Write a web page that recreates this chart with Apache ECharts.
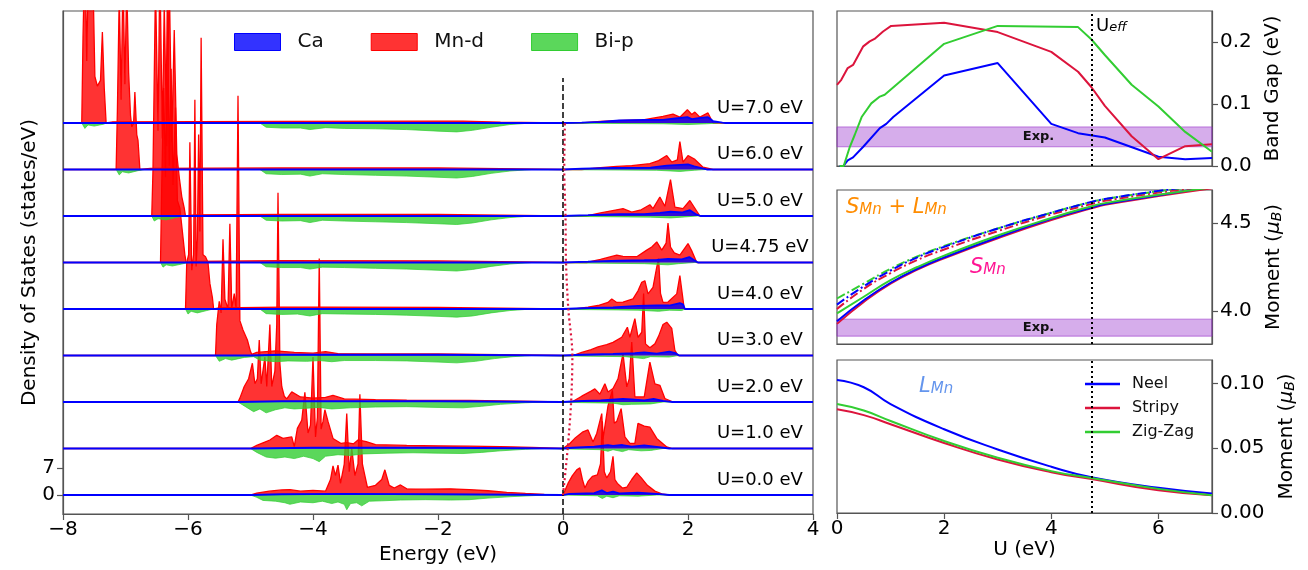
<!DOCTYPE html>
<html>
<head>
<meta charset="utf-8">
<script src="https://cdn.jsdelivr.net/npm/echarts@6/dist/echarts.min.js"></script>
<style>
  html, body { margin: 0; padding: 0; background: #fff; }
  #chart { width: 1308px; height: 570px; }
</style>
</head>
<body>
<div id="chart"></div>
<script>
// ---- DOS panel: one offset per U, values in states/eV ----
var dosOffsets = [0, 12, 24, 36, 48, 60, 72, 84, 96];
var uText = ['U=0.0 eV', 'U=1.0 eV', 'U=2.0 eV', 'U=3.0 eV', 'U=4.0 eV', 'U=4.75 eV', 'U=5.0 eV', 'U=6.0 eV', 'U=7.0 eV'];
var gapLine = [0.0, 0.075, 0.13, 0.15, 0.085, 0.048, 0.04, 0.02, 0.03];

var mnD0 = [[-8,0],[-5.0,0],[-4.9,0.5],[-4.7,1.0],[-4.5,1.3],[-4.37,1.4],[-4.2,1.0],[-4.0,1.2],[-3.8,1.0],[-3.72,4],[-3.68,7.5],[-3.64,5],[-3.6,7.7],[-3.56,3],[-3.5,8],[-3.46,21],[-3.42,6],[-3.38,12],[-3.33,5],[-3.28,8],[-3.25,26],[-3.21,8],[-3.17,5],[-3.13,2],[-3.0,2.5],[-2.9,4],[-2.85,6.5],[-2.78,2.5],[-2.7,1.8],[-2.6,2.6],[-2.5,1.6],[-2.2,1.5],[-1.8,1.6],[-1.5,1.4],[-1.2,1.1],[-0.9,0.7],[-0.6,0.4],[-0.3,0.15],[0,0],[0.02,0],[0.08,3],[0.15,5],[0.22,6.5],[0.27,7],[0.31,4],[0.35,1.8],[0.4,3.5],[0.47,4.8],[0.55,5.2],[0.6,8],[0.63,19],[0.66,6],[0.7,4.4],[0.76,6],[0.8,10],[0.83,4],[0.87,3],[0.95,1.8],[1.02,2],[1.1,4],[1.18,5.7],[1.25,4.5],[1.35,2.5],[1.47,1],[1.6,0.2],[1.7,0],[4,0]];
var mnD1 = [[-8,0],[-5.0,0],[-4.9,0.8],[-4.78,1.6],[-4.69,2.2],[-4.58,3.4],[-4.48,2.6],[-4.34,3],[-4.3,0.5],[-4.27,0.5],[-4.25,5.2],[-4.18,7.3],[-4.13,14.5],[-4.08,4],[-4.04,6],[-4.0,23.6],[-3.96,3],[-3.93,8],[-3.9,49],[-3.87,5],[-3.84,7],[-3.81,10],[-3.76,7],[-3.68,2.6],[-3.55,1.3],[-3.46,1.5],[-3.35,1.2],[-3.28,2.2],[-3.15,1.8],[-3.0,1.0],[-2.5,0.8],[-2.0,0.7],[-1.5,0.6],[-1.0,0.5],[-0.5,0.3],[0,0],[0.03,0],[0.11,1.3],[0.2,2.8],[0.32,4.3],[0.4,4.8],[0.48,1.7],[0.54,3.9],[0.62,9],[0.64,2.5],[0.72,11],[0.79,15],[0.82,6.5],[0.86,7],[0.93,10.3],[0.99,3],[1.07,1.3],[1.15,1.3],[1.2,6.5],[1.3,5.8],[1.39,5.5],[1.5,2.6],[1.66,0.4],[1.75,0],[4,0]];
var mnD2 = [[-8,0],[-5.2,0],[-5.17,1],[-5.1,4],[-5.03,6],[-5.0,8],[-4.97,10],[-4.93,4.7],[-4.89,6],[-4.86,16],[-4.83,4.7],[-4.77,11.6],[-4.74,4],[-4.69,20],[-4.66,4],[-4.61,8],[-4.58,20],[-4.56,54],[-4.53,10],[-4.5,4],[-4.46,1.5],[-4.42,0.8],[-4.34,2.6],[-4.2,1.3],[-4.0,1.0],[-3.8,1.2],[-3.68,1.7],[-3.5,0.8],[-3.0,0.6],[-2.5,0.5],[-1.5,0.4],[-0.7,0.2],[0,0],[0.14,0],[0.3,1.5],[0.45,2.8],[0.51,3.4],[0.59,2],[0.67,4.7],[0.72,2.6],[0.8,3.5],[0.88,6],[0.96,12.5],[1.02,3.9],[1.06,6],[1.1,15.5],[1.15,1.3],[1.3,1.3],[1.39,10.3],[1.47,4.7],[1.55,4.3],[1.63,0.9],[1.76,0],[4,0]];
var mnD3 = [[-8,0],[-5.56,0],[-5.54,8],[-5.5,14],[-5.47,11],[-5.44,30],[-5.41,14.5],[-5.36,12],[-5.33,34],[-5.3,12],[-5.26,16],[-5.23,12],[-5.2,67],[-5.17,9],[-5.12,6.6],[-5.05,4],[-5.0,1],[-4.98,0.3],[-4.9,0.8],[-4.6,1.2],[-4.3,0.8],[-4.0,0.6],[-3.8,1.0],[-3.6,0.5],[-3.0,0.4],[-2.0,0.4],[-1.0,0.2],[0,0],[0.16,0],[0.3,0.8],[0.45,1.5],[0.56,2.2],[0.7,2.8],[0.8,3.4],[0.94,4.7],[1.03,7.3],[1.07,4.7],[1.15,9.5],[1.2,4.7],[1.26,6],[1.29,16],[1.32,3],[1.39,2],[1.47,3],[1.53,5],[1.6,8],[1.66,8.6],[1.74,7],[1.79,1.3],[1.84,0],[4,0]];
var mnD4 = [[-8,0],[-6.04,0],[-6.02,12],[-5.99,14],[-5.97,43],[-5.94,10],[-5.91,14],[-5.89,54],[-5.87,11],[-5.85,18],[-5.83,45],[-5.81,20],[-5.79,70],[-5.76,14],[-5.72,13.5],[-5.68,12],[-5.65,6.6],[-5.61,3],[-5.59,0],[-5.5,0.3],[-4.5,0.5],[-3.8,0.5],[-2,0.4],[-1,0.2],[0,0],[0.19,0],[0.4,0.5],[0.56,0.9],[0.72,1.7],[0.78,2.6],[0.86,1.7],[0.96,1.8],[1.12,2.6],[1.2,4.7],[1.26,6.9],[1.31,7.3],[1.36,3.9],[1.44,5.6],[1.5,10.8],[1.53,13],[1.56,4],[1.6,1.7],[1.68,1.8],[1.82,3.9],[1.87,8.6],[1.9,9.1],[1.94,0],[4,0]];
var mnD475 = [[-8,0],[-6.44,0],[-6.42,20],[-6.39,45],[-6.36,22],[-6.33,70],[-6.3,25],[-6.27,50],[-6.24,20],[-6.2,40],[-6.17,16],[-6.13,14],[-6.09,8],[-6.05,2],[-6.03,0],[-5.9,0.3],[-4.5,0.5],[-2,0.4],[-1,0.2],[0,0],[0.38,0],[0.6,0.8],[0.86,1.9],[0.96,1.6],[1.18,1.5],[1.34,3.2],[1.42,4],[1.5,5.3],[1.58,3.2],[1.65,5],[1.68,10.2],[1.72,4],[1.78,2.5],[1.87,1.9],[2.0,4.9],[2.06,3],[2.14,0],[4,0]];
var mnD5 = [[-8,0],[-6.58,0],[-6.56,12],[-6.52,60],[-6.48,22],[-6.45,65],[-6.41,20],[-6.38,55],[-6.34,18],[-6.3,62],[-6.26,19],[-6.22,48],[-6.18,16],[-6.14,10],[-6.1,5],[-6.06,2],[-6.04,0],[-5.9,0.3],[-4.5,0.4],[-2,0.4],[-1,0.2],[0,0],[0.38,0],[0.6,0.8],[0.86,1.6],[0.96,1.9],[1.1,1.0],[1.25,1.6],[1.39,2.9],[1.44,1.9],[1.55,4.9],[1.63,2.5],[1.72,9.4],[1.79,2.3],[1.92,1.9],[2.03,4],[2.11,2.0],[2.19,0],[4,0]];
var mnD6 = [[-8,0],[-7.15,0],[-7.13,15],[-7.1,45],[-7.07,18],[-7.04,50],[-7.01,22],[-6.98,48],[-6.95,25],[-6.92,14],[-6.9,11],[-6.87,12],[-6.85,20],[-6.82,9],[-6.8,7.5],[-6.77,0],[-6.6,0.3],[-4.5,0.4],[-2,0.4],[-1,0.2],[0,0],[0.3,0],[0.6,0.5],[0.86,0.8],[1.1,1.0],[1.39,1.5],[1.53,2.3],[1.66,3.6],[1.74,1.9],[1.83,2.5],[1.87,7.2],[1.92,1.9],[2.0,3.6],[2.11,2.6],[2.24,0.6],[2.4,0],[4,0]];
var mnD7 = [[-8,0],[-7.7,0],[-7.68,22],[-7.65,45],[-7.62,16],[-7.59,45],[-7.56,30],[-7.53,45],[-7.49,12],[-7.45,9.5],[-7.4,11],[-7.37,23.5],[-7.34,9],[-7.31,0],[-7.2,0.3],[-4.5,0.4],[-2,0.5],[-1.6,0.5],[-1,0.2],[0,0],[0.3,0],[0.6,0.4],[0.86,0.6],[1.28,0.8],[1.6,1.7],[1.76,2.3],[1.87,1.5],[1.99,3.4],[2.06,2.2],[2.11,2.8],[2.19,1.5],[2.32,2.6],[2.4,0],[4,0]];

var biP0 = [[-8,0],[-5.0,0],[-4.9,-0.6],[-4.8,-1.4],[-4.6,-1.6],[-4.45,-2.0],[-4.37,-2.4],[-4.2,-1.8],[-4.0,-2.0],[-3.85,-1.6],[-3.7,-2.2],[-3.6,-1.8],[-3.5,-2.4],[-3.46,-3.8],[-3.4,-2.2],[-3.3,-2.0],[-3.22,-2.8],[-3.1,-1.6],[-2.9,-1.5],[-2.6,-1.3],[-2.2,-1.2],[-1.8,-1.3],[-1.5,-1.2],[-1.2,-0.8],[-0.8,-0.4],[-0.4,-0.1],[0,0],[0.55,-0.2],[0.63,-0.9],[0.7,-0.3],[0.8,-0.7],[0.9,-0.2],[1.2,-0.3],[1.5,0],[4,0]];
var biP1 = [[-8,0],[-5.0,0],[-4.9,-1],[-4.75,-2.2],[-4.6,-2.5],[-4.45,-2.2],[-4.3,-2.6],[-4.15,-2.0],[-4.0,-2.6],[-3.9,-3.4],[-3.8,-2.0],[-3.6,-1.6],[-3.4,-1.8],[-3.2,-1.4],[-2.8,-1.2],[-2.4,-1.1],[-2.0,-1.2],[-1.6,-1.3],[-1.3,-1.0],[-1.0,-0.6],[-0.6,-0.2],[-0.3,0],[0.6,-0.3],[0.72,-0.7],[0.8,-0.3],[0.95,-0.8],[1.05,-0.3],[1.25,-0.6],[1.4,-0.5],[1.6,0],[4,0]];
var biP2 = [[-8,0],[-5.2,0],[-5.1,-1],[-4.95,-2.5],[-4.85,-1.8],[-4.75,-2.8],[-4.6,-2.0],[-4.45,-1.5],[-4.3,-1.8],[-4.1,-1.6],[-3.9,-1.4],[-3.7,-1.8],[-3.4,-1.5],[-3.0,-1.3],[-2.5,-1.2],[-2.0,-1.4],[-1.6,-1.5],[-1.3,-1.1],[-1.0,-0.6],[-0.6,-0.2],[-0.3,0],[0.8,-0.3],[0.96,-0.7],[1.1,-0.6],[1.4,-0.5],[1.6,0],[4,0]];
var biP3 = [[-8,0],[-5.56,0],[-5.5,-1.5],[-5.4,-0.8],[-5.3,-1.2],[-5.1,-0.5],[-4.95,-0.3],[-4.85,-1.2],[-4.6,-1.6],[-4.4,-1.4],[-4.1,-1.5],[-3.9,-1.3],[-3.7,-1.6],[-3.5,-1.3],[-3.0,-1.3],[-2.5,-1.4],[-2.0,-1.7],[-1.7,-1.9],[-1.4,-1.5],[-1.1,-0.8],[-0.8,-0.3],[-0.5,0],[1.0,-0.3],[1.29,-0.8],[1.4,-0.3],[1.7,-0.4],[1.85,0],[4,0]];
var biP4 = [[-8,0],[-6.04,0],[-6.0,-1.3],[-5.95,-0.6],[-5.85,-1.0],[-5.7,-0.4],[-5.6,0],[-4.85,0],[-4.75,-1.2],[-4.5,-1.4],[-4.25,-1.3],[-4.05,-1.8],[-3.85,-1.2],[-3.5,-1.3],[-3.0,-1.4],[-2.5,-1.6],[-2.0,-1.9],[-1.7,-2.1],[-1.45,-1.8],[-1.15,-1.0],[-0.85,-0.4],[-0.5,0],[1.2,-0.3],[1.53,-0.6],[1.7,-0.3],[1.9,-0.4],[1.95,0],[4,0]];
var biP475 = [[-8,0],[-6.44,0],[-6.4,-1.2],[-6.35,-0.6],[-6.25,-0.9],[-6.1,-0.4],[-6.0,0],[-4.85,0],[-4.75,-1.1],[-4.5,-1.3],[-4.2,-1.3],[-4.05,-1.7],[-3.85,-1.2],[-3.5,-1.3],[-3.0,-1.5],[-2.5,-1.7],[-2.0,-2.0],[-1.7,-2.2],[-1.45,-1.8],[-1.15,-1.0],[-0.85,-0.4],[-0.5,0],[1.3,-0.3],[1.68,-0.6],[1.85,-0.3],[2.1,0],[4,0]];
var biP5 = [[-8,0],[-6.58,0],[-6.54,-1.3],[-6.48,-0.7],[-6.35,-1.0],[-6.2,-0.4],[-6.05,0],[-4.85,0],[-4.75,-1.1],[-4.5,-1.3],[-4.2,-1.2],[-4.05,-1.7],[-3.85,-1.1],[-3.5,-1.3],[-3.0,-1.5],[-2.5,-1.7],[-2.0,-2.0],[-1.7,-2.2],[-1.45,-1.8],[-1.15,-1.0],[-0.85,-0.4],[-0.5,0],[1.4,-0.3],[1.72,-0.5],[1.9,-0.3],[2.15,0],[4,0]];
var biP6 = [[-8,0],[-7.15,0],[-7.1,-1.4],[-7.05,-0.6],[-6.95,-0.9],[-6.8,-0.3],[-6.7,0],[-4.85,0],[-4.75,-1.1],[-4.5,-1.3],[-4.2,-1.2],[-4.05,-1.7],[-3.85,-1.1],[-3.5,-1.3],[-3.0,-1.5],[-2.5,-1.7],[-2.0,-2.0],[-1.7,-2.2],[-1.45,-1.8],[-1.15,-1.0],[-0.85,-0.4],[-0.5,0],[1.5,-0.2],[1.87,-0.5],[2.1,-0.2],[2.3,0],[4,0]];
var biP7 = [[-8,0],[-7.7,0],[-7.65,-1.4],[-7.6,-0.5],[-7.5,-0.8],[-7.35,-0.3],[-7.3,0],[-4.85,0],[-4.75,-1.1],[-4.5,-1.3],[-4.2,-1.3],[-4.05,-1.7],[-3.8,-1.2],[-3.5,-1.4],[-3.0,-1.5],[-2.5,-1.7],[-2.0,-2.1],[-1.7,-2.3],[-1.45,-1.9],[-1.15,-1.1],[-0.85,-0.4],[-0.5,0],[1.6,-0.2],[2.0,-0.4],[2.3,-0.2],[2.5,0],[4,0]];

var ca0 = [[-8,0],[-5,0],[-4.5,0.2],[-3.5,0.3],[-2,0.2],[0,0],[0.1,0.3],[0.5,0.5],[0.62,1.2],[0.7,0.5],[0.8,0.9],[0.9,0.4],[1.2,0.6],[1.5,0.3],[1.7,0],[4,0]];
var ca1 = [[-8,0],[-5,0],[-4,0.2],[-2,0.2],[0,0],[0.15,0.2],[0.5,0.5],[0.72,0.9],[0.8,0.7],[0.95,0.9],[1.1,0.5],[1.3,0.8],[1.5,0.4],[1.7,0],[4,0]];
var ca2 = [[-8,0],[-5.2,0],[-4.5,0.2],[-2,0.2],[0,0],[0.2,0.2],[0.6,0.4],[0.96,0.8],[1.1,0.7],[1.3,0.4],[1.45,0.8],[1.6,0.3],[1.75,0],[4,0]];
var ca3 = [[-8,0],[-5,0],[-4.5,0.2],[-2,0.2],[0,0],[0.3,0.2],[0.8,0.4],[1.15,0.6],[1.3,0.8],[1.5,0.5],[1.7,1.0],[1.8,0.6],[1.86,0],[4,0]];
var ca4 = [[-8,0],[0,0],[0.3,0.2],[0.8,0.4],[1.2,0.8],[1.5,0.9],[1.7,0.9],[1.87,1.5],[1.92,1.2],[1.95,0],[4,0]];
var ca475 = [[-8,0],[0,0],[0.4,0.2],[0.9,0.5],[1.3,0.6],[1.5,0.7],[1.68,0.9],[1.9,0.8],[2.02,1.4],[2.1,0.6],[2.16,0],[4,0]];
var ca5 = [[-8,0],[0,0],[0.4,0.2],[0.9,0.5],[1.3,0.5],[1.55,0.8],[1.72,1.1],[1.9,0.9],[2.03,1.5],[2.12,0.5],[2.2,0],[4,0]];
var ca6 = [[-8,0],[0,0],[0.3,0.2],[0.8,0.4],[1.4,0.5],[1.66,1.0],[1.87,1.2],[2.0,1.3],[2.1,0.8],[2.3,0],[4,0]];
var ca7 = [[-8,0],[0,0],[0.3,0.1],[0.6,0.3],[0.9,0.7],[1.3,0.8],[1.6,0.8],[1.76,1.1],[1.99,1.5],[2.06,1.0],[2.2,1.3],[2.32,1.5],[2.4,0.5],[2.55,0.1],[2.6,0],[4,0]];

var mnD = [mnD0, mnD1, mnD2, mnD3, mnD4, mnD475, mnD5, mnD6, mnD7];
var biP = [biP0, biP1, biP2, biP3, biP4, biP475, biP5, biP6, biP7];
var caS = [ca0, ca1, ca2, ca3, ca4, ca475, ca5, ca6, ca7];

// ---- right panels, vs U (eV) ----
var uEff = 4.75;
var gapExp = [0.031, 0.063];
var momExp = [3.855, 3.952];
var gapNeel = [[0.05,0],[0.12,0],[0.2,0.009],[0.3,0.014],[0.49,0.031],[0.8,0.061],[0.92,0.068],[1.05,0.079],[2,0.146],[3,0.166],[4,0.068],[4.5,0.053],[5,0.046],[6,0.015],[6.5,0.011],[7,0.013]];
var gapStripy = [[0,0.131],[0.08,0.139],[0.2,0.158],[0.3,0.163],[0.49,0.193],[0.61,0.201],[0.7,0.205],[0.86,0.217],[1.01,0.226],[2,0.231],[3,0.216],[4,0.184],[4.5,0.152],[4.75,0.127],[5,0.097],[5.5,0.048],[6,0.011],[6.5,0.032],[7,0.035]];
var gapZig = [[0.05,0],[0.125,0],[0.24,0.031],[0.33,0.05],[0.46,0.079],[0.64,0.101],[0.8,0.112],[0.89,0.115],[2,0.197],[3,0.226],[4.5,0.224],[4.75,0.204],[5,0.179],[5.5,0.131],[6,0.096],[6.5,0.055],[7,0.023]];

var uMom = [0, 0.5, 1, 1.5, 2, 3, 4, 4.75, 5, 6, 7];
var sNeel = [3.94, 4.06, 4.16, 4.24, 4.305, 4.42, 4.525, 4.59, 4.61, 4.66, 4.71];
var sStripy = [3.925, 4.05, 4.155, 4.235, 4.30, 4.414, 4.518, 4.585, 4.605, 4.655, 4.70];
var sZig = [3.985, 4.08, 4.175, 4.25, 4.315, 4.43, 4.53, 4.597, 4.615, 4.663, 4.705];
var tNeel = [4.035, 4.14, 4.23, 4.305, 4.365, 4.47, 4.56, 4.622, 4.638, 4.685, 4.725];
var tStripy = [4.01, 4.125, 4.215, 4.29, 4.35, 4.455, 4.55, 4.61, 4.628, 4.675, 4.715];
var tZig = [4.07, 4.155, 4.24, 4.31, 4.37, 4.47, 4.56, 4.622, 4.638, 4.683, 4.72];

var uL = [0, 0.5, 1, 2, 3, 4, 4.75, 6, 7];
var lNeel = [0.1026, 0.097, 0.084, 0.0646, 0.049, 0.0357, 0.0276, 0.0194, 0.015];
var lStripy = [0.080, 0.0755, 0.0685, 0.054, 0.0413, 0.0315, 0.0262, 0.0175, 0.0137];
var lZig = [0.084, 0.079, 0.071, 0.0555, 0.0426, 0.0323, 0.027, 0.0186, 0.0137];

(function () {
    var myChart = echarts.init(document.getElementById('chart'));
    var font = 'DejaVu Sans';
    var blue = '#0000ff', crimson = '#dc143c', lime = '#32cd32';
    var axisCol = '#555';

    function minus(v) { return String(v).replace('-', '\u2212'); }
    function pairs(xs, ys) { return xs.map(function (x, i) { return [x, ys[i]]; }); }
    function shift(arr, off) { return arr.map(function (p) { return [p[0], p[1] + off]; }); }

    var series = [];
    dosOffsets.forEach(function (off, i) {
        series.push({
            name: 'Mn-d', type: 'line', xAxisIndex: 0, yAxisIndex: 0, symbol: 'none', z: 2,
            data: shift(mnD[i], off),
            lineStyle: { color: '#ff0000', width: 1.3 },
            itemStyle: { color: '#ff0000' },
            areaStyle: { color: 'rgba(255,0,0,0.8)', opacity: 1, origin: off }
        });
    });
    dosOffsets.forEach(function (off, i) {
        series.push({
            name: 'Bi-p', type: 'line', xAxisIndex: 0, yAxisIndex: 0, symbol: 'none', z: 3,
            data: shift(biP[i], off),
            lineStyle: { color: 'rgba(50,205,50,0.9)', width: 0.8 },
            itemStyle: { color: lime },
            areaStyle: { color: 'rgba(50,205,50,0.8)', opacity: 1, origin: off }
        });
    });
    dosOffsets.forEach(function (off, i) {
        series.push({
            name: 'Ca', type: 'line', xAxisIndex: 0, yAxisIndex: 0, symbol: 'none', z: 4,
            data: shift(caS[i], off),
            lineStyle: { color: blue, width: 1.8 },
            itemStyle: { color: blue },
            areaStyle: { color: 'rgba(0,0,255,0.8)', opacity: 1, origin: off }
        });
    });
    // Fermi level and gap trace
    series.push({
        type: 'line', xAxisIndex: 0, yAxisIndex: 0, symbol: 'none', z: 5, silent: true,
        data: [[0, -4.9], [0, 107.6]],
        lineStyle: { color: '#000', width: 1.5, type: [6, 3] }
    });
    series.push({
        type: 'line', xAxisIndex: 0, yAxisIndex: 0, symbol: 'none', z: 5, silent: true, smooth: 0.3,
        data: pairs(gapLine, dosOffsets),
        lineStyle: { color: crimson, width: 2.2, type: [2, 3] }
    });
    series.push({
        type: 'scatter', xAxisIndex: 0, yAxisIndex: 0, symbolSize: 0, z: 6, silent: true,
        itemStyle: { opacity: 1 },
        data: dosOffsets.map(function (off, i) { return [3.15, off + 3.9, uText[i]]; }),
        label: {
            show: true, position: 'inside', formatter: function (p) { return p.value[2]; },
            fontSize: 18, color: '#000', opacity: 1, fontFamily: font
        }
    });

    var effLine = {
        silent: true, symbol: 'none', label: { show: false },
        lineStyle: { color: '#000', type: [2, 3], width: 2 },
        data: [{ xAxis: uEff }]
    };
    function expArea(lo, hi) {
        return {
            silent: true,
            itemStyle: { color: 'rgba(153,50,204,0.4)', borderColor: 'rgba(153,50,204,0.6)', borderWidth: 1 },
            label: { show: true, position: 'inside', formatter: 'Exp.', fontWeight: 'bold', fontSize: 13, color: '#111', offset: [14, 0] },
            data: [[{ yAxis: lo }, { yAxis: hi }]]
        };
    }
    function uLine(name, data, color, xi, extra) {
        var s = {
            name: name, type: 'line', xAxisIndex: xi, yAxisIndex: xi, symbol: 'none', z: 3,
            data: data, lineStyle: { color: color, width: 2 }, itemStyle: { color: color }
        };
        for (var k in extra) s[k] = extra[k];
        return s;
    }
    var dashDot = [9, 3, 2, 3];

    series.push(uLine('Neel', gapNeel, blue, 1, { markArea: expArea(gapExp[0], gapExp[1]), markLine: effLine }));
    series.push(uLine('Stripy', gapStripy, crimson, 1));
    series.push(uLine('Zig-Zag', gapZig, lime, 1));

    series.push(uLine('Stripy', pairs(uMom, sStripy), crimson, 2, { smooth: true, markArea: expArea(momExp[0], momExp[1]), markLine: effLine }));
    series.push(uLine('Neel', pairs(uMom, sNeel), blue, 2, { smooth: true }));
    series.push(uLine('Zig-Zag', pairs(uMom, sZig), lime, 2, { smooth: true }));
    series.push(uLine('Stripy', pairs(uMom, tStripy), crimson, 2, { smooth: true, lineStyle: { color: crimson, width: 2, type: dashDot } }));
    series.push(uLine('Zig-Zag', pairs(uMom, tZig), lime, 2, { smooth: true, lineStyle: { color: lime, width: 2, type: dashDot } }));
    series.push(uLine('Neel', pairs(uMom, tNeel), blue, 2, { smooth: true, lineStyle: { color: blue, width: 2, type: dashDot } }));

    series.push(uLine('Neel', pairs(uL, lNeel), blue, 3, { smooth: true, markLine: effLine }));
    series.push(uLine('Stripy', pairs(uL, lStripy), crimson, 3, { smooth: true }));
    series.push(uLine('Zig-Zag', pairs(uL, lZig), lime, 3, { smooth: true }));

    var gridBase = { show: true, borderColor: axisCol, borderWidth: 1.2, backgroundColor: 'transparent' };
    function g(o) { var r = {}; for (var k in gridBase) r[k] = gridBase[k]; for (var j in o) r[j] = o[j]; return r; }

    var axLine = { show: true, onZero: false, lineStyle: { color: axisCol, width: 1.2 } };
    var nameStyle = { fontSize: 20, color: '#000', fontFamily: font };
    var momentName = { fontSize: 20, color: '#000', fontFamily: font,
        rich: { m: { fontSize: 20, fontStyle: 'italic', fontFamily: font }, b: { fontSize: 14, fontStyle: 'italic', fontFamily: font, padding: [6, 0, 0, 0] } } };
    function tickAt(vals) { return { show: true, length: 6, lineStyle: { color: axisCol, width: 1.2 }, customValues: vals }; }

    var option = {
        animation: false,
        textStyle: { fontFamily: font },
        grid: [
            g({ left: 63, top: 11, width: 750, height: 503 }),
            g({ left: 837, top: 11, width: 375, height: 155 }),
            g({ left: 837, top: 190, width: 375, height: 154 }),
            g({ left: 837, top: 360, width: 375, height: 153 })
        ],
        legend: [
            {
                left: 234, top: 32, padding: 0, itemWidth: 46, itemHeight: 17, itemGap: 47,
                textStyle: { fontSize: 20, color: '#111', fontFamily: font, padding: [0, 0, 0, 12] },
                data: [
                    { name: 'Ca', icon: 'rect', itemStyle: { color: 'rgba(0,0,255,0.8)', borderColor: blue, borderWidth: 1 } },
                    { name: 'Mn-d', icon: 'rect', itemStyle: { color: 'rgba(255,0,0,0.8)', borderColor: '#ff0000', borderWidth: 1 } },
                    { name: 'Bi-p', icon: 'rect', itemStyle: { color: 'rgba(50,205,50,0.8)', borderColor: lime, borderWidth: 1 } }
                ],
                selectedMode: false
            },
            {
                left: 1085, top: 376, padding: 0, orient: 'vertical', itemWidth: 35, itemHeight: 2.5, itemGap: 8,
                icon: 'rect',
                textStyle: { fontSize: 16, color: '#111', fontFamily: font, lineHeight: 16, padding: [0, 0, 0, 7] },
                data: ['Neel', 'Stripy', 'Zig-Zag'],
                selectedMode: false
            }
        ],
        xAxis: [
            { type: 'value', gridIndex: 0, min: -8, max: 4, interval: 2, axisLine: axLine, splitLine: { show: false },
              axisTick: { show: true, length: 6, lineStyle: { color: axisCol, width: 1.2 } },
              axisLabel: { fontSize: 20, color: '#000', fontFamily: font, margin: 6, formatter: minus },
              name: 'Energy (eV)', nameLocation: 'middle', nameGap: 27, nameTextStyle: nameStyle },
            { type: 'value', gridIndex: 1, min: 0, max: 7, axisLine: axLine, axisTick: { show: false }, axisLabel: { show: false }, splitLine: { show: false } },
            { type: 'value', gridIndex: 2, min: 0, max: 7, axisLine: axLine, axisTick: { show: false }, axisLabel: { show: false }, splitLine: { show: false } },
            { type: 'value', gridIndex: 3, min: 0, max: 7, axisLine: axLine, splitLine: { show: false },
              axisTick: tickAt([0, 2, 4, 6]),
              axisLabel: { fontSize: 20, color: '#000', fontFamily: font, margin: 6, customValues: [0, 2, 4, 6] },
              name: 'U (eV)', nameLocation: 'middle', nameGap: 27, nameTextStyle: nameStyle }
        ],
        yAxis: [
            { type: 'value', gridIndex: 0, min: -4.9, max: 124.9, axisLine: axLine, splitLine: { show: false },
              axisTick: tickAt([0, 7]),
              axisLabel: { fontSize: 20, color: '#000', fontFamily: font, customValues: [0, 7] },
              name: 'Density of States (states/eV)', nameLocation: 'middle', nameRotate: 90, nameGap: 23,
              nameMoveOverlap: false, nameTextStyle: nameStyle },
            { type: 'value', gridIndex: 1, position: 'right', min: 0, max: 0.25, axisLine: axLine, splitLine: { show: false },
              axisTick: tickAt([0, 0.1, 0.2]),
              axisLabel: { fontSize: 20, color: '#000', fontFamily: font, customValues: [0, 0.1, 0.2], formatter: function (v) { return v.toFixed(1); } },
              name: 'Band Gap (eV)', nameLocation: 'middle', nameRotate: 90, nameGap: 51, nameTextStyle: nameStyle },
            { type: 'value', gridIndex: 2, position: 'right', min: 3.81, max: 4.69, axisLine: axLine, splitLine: { show: false },
              axisTick: tickAt([4.0, 4.5]),
              axisLabel: { fontSize: 20, color: '#000', fontFamily: font, customValues: [4.0, 4.5], formatter: function (v) { return v.toFixed(1); } },
              name: 'Moment ({m|μ}{b|B})', nameLocation: 'middle', nameRotate: 90, nameGap: 52, nameTextStyle: momentName },
            { type: 'value', gridIndex: 3, position: 'right', min: 0, max: 0.118, axisLine: axLine, splitLine: { show: false },
              axisTick: tickAt([0, 0.05, 0.1]),
              axisLabel: { fontSize: 20, color: '#000', fontFamily: font, customValues: [0, 0.05, 0.1], formatter: function (v) { return v.toFixed(2); } },
              name: 'Moment ({m|μ}{b|B})', nameLocation: 'middle', nameRotate: 90, nameGap: 65, nameTextStyle: momentName }
        ],
        graphic: [
            { type: 'text', left: 1096, top: 17, silent: true,
              style: { text: '{u|U}{e|eff}', fill: '#000',
                rich: { u: { fontSize: 18, fontFamily: font, fill: '#000', padding: [0, 0, 3, 0] },
                        e: { fontSize: 13, fontFamily: font, fontStyle: 'italic', fill: '#000' } } } },
            { type: 'text', left: 846, top: 197, silent: true,
              style: { text: '{s|S}{b|Mn}{p| + }{s|L}{b|Mn}', fill: '#ff8c00',
                rich: { s: { fontSize: 21, fontFamily: font, fontStyle: 'italic', fill: '#ff8c00', padding: [0, 0, 5, 0] },
                        b: { fontSize: 15, fontFamily: font, fontStyle: 'italic', fill: '#ff8c00' },
                        p: { fontSize: 21, fontFamily: font, fill: '#ff8c00', padding: [0, 0, 5, 0] } } } },
            { type: 'text', left: 970, top: 257, silent: true,
              style: { text: '{s|S}{b|Mn}', fill: '#ff1493',
                rich: { s: { fontSize: 21, fontFamily: font, fontStyle: 'italic', fill: '#ff1493', padding: [0, 0, 5, 0] },
                        b: { fontSize: 15, fontFamily: font, fontStyle: 'italic', fill: '#ff1493' } } } },
            { type: 'text', left: 919, top: 376, silent: true,
              style: { text: '{s|L}{b|Mn}', fill: '#6495ed',
                rich: { s: { fontSize: 21, fontFamily: font, fontStyle: 'italic', fill: '#6495ed', padding: [0, 0, 5, 0] },
                        b: { fontSize: 15, fontFamily: font, fontStyle: 'italic', fill: '#6495ed' } } } }
        ],
        series: series
    };

    myChart.setOption(option);
    window.addEventListener('resize', function () {
        myChart.resize();
    });
})();
</script>
</body>
</html>
